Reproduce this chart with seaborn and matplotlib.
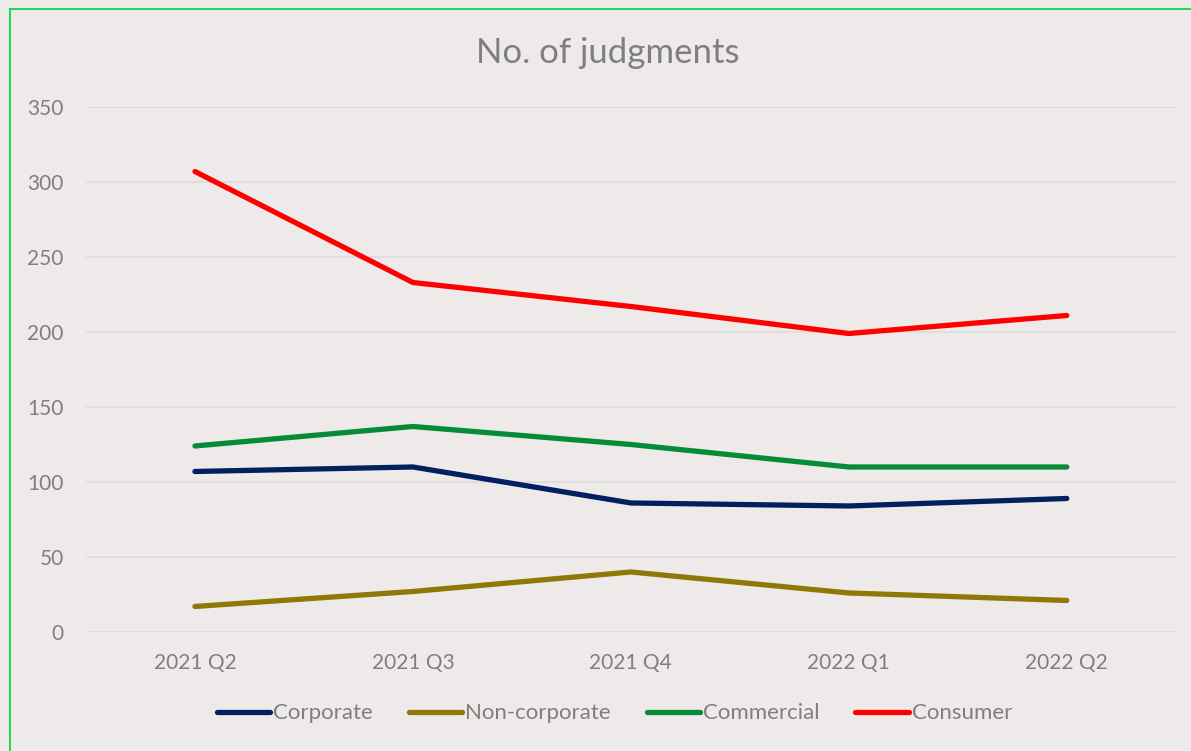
import pandas as pd
import matplotlib
matplotlib.use('Agg')
import matplotlib.pyplot as plt
import matplotlib.patches as mpatches
import seaborn as sns

# Data
quarters = ['2021 Q2', '2021 Q3', '2021 Q4', '2022 Q1', '2022 Q2']
corporate = [107, 110, 86, 84, 89]
non_corporate = [17, 27, 40, 26, 21]
commercial = [124, 137, 125, 110, 110]
consumer = [307, 233, 217, 199, 211]

series_names = ['Corporate', 'Non-corporate', 'Commercial', 'Consumer']
palette = {'Corporate': '#002060', 'Non-corporate': '#8F7808',
           'Commercial': '#068C38', 'Consumer': '#FF0000'}

df = pd.DataFrame({'Corporate': corporate, 'Non-corporate': non_corporate,
                   'Commercial': commercial, 'Consumer': consumer},
                  index=quarters)
long_df = df.reset_index(names='quarter').melt(id_vars='quarter', var_name='series', value_name='count')

bg = '#EEEAE9'
sns.set_theme(style='white')
plt.rcParams['font.family'] = ['Lato', 'DejaVu Sans']

fig = plt.figure(figsize=(11.91, 7.51), dpi=100, facecolor=bg)
ax = fig.add_axes([0.0722, 0.1585, 0.915, 0.699])
ax.set_facecolor(bg)

sns.lineplot(data=long_df, x='quarter', y='count', hue='series', hue_order=series_names,
             palette=palette, linewidth=3.8, ax=ax, sort=False,
             solid_capstyle='round')

ax.set_ylim(0, 350)
ax.set_xlim(-0.5, 4.5)
ax.set_yticks(range(0, 351, 50))
ax.yaxis.grid(True, color='#DCDCDC', linewidth=1.2)
ax.xaxis.grid(False)
for s in ax.spines.values():
    s.set_visible(False)
ax.tick_params(axis='both', colors='#7F7F7F', labelsize=15, length=0)
ax.tick_params(axis='y', pad=16)
ax.tick_params(axis='x', pad=15)
ax.set_xlabel('')
ax.set_ylabel('')

fig.text(0.51, 0.929, 'No. of judgments', ha='center', va='center',
         fontsize=25, color='#7F7F7F')

handles = [plt.Line2D([0], [0], color=palette[n], linewidth=3.8, solid_capstyle='round')
           for n in series_names]
ax.legend(handles, series_names, loc='center', bbox_to_anchor=(0.485, -0.155),
          ncol=4, frameon=False, fontsize=16, labelcolor='#7F7F7F',
          handlelength=2.4, handletextpad=0.15, columnspacing=1.6)

# green chart-area border, running off right and bottom edges
fig.patches.append(mpatches.Rectangle((10 / 1191, -0.05), 1.0, 1 - 9 / 751 + 0.05,
                                      transform=fig.transFigure, fill=False,
                                      edgecolor='#22D65A', linewidth=1.5))

fig.savefig('out.png', dpi=100, facecolor=bg)
